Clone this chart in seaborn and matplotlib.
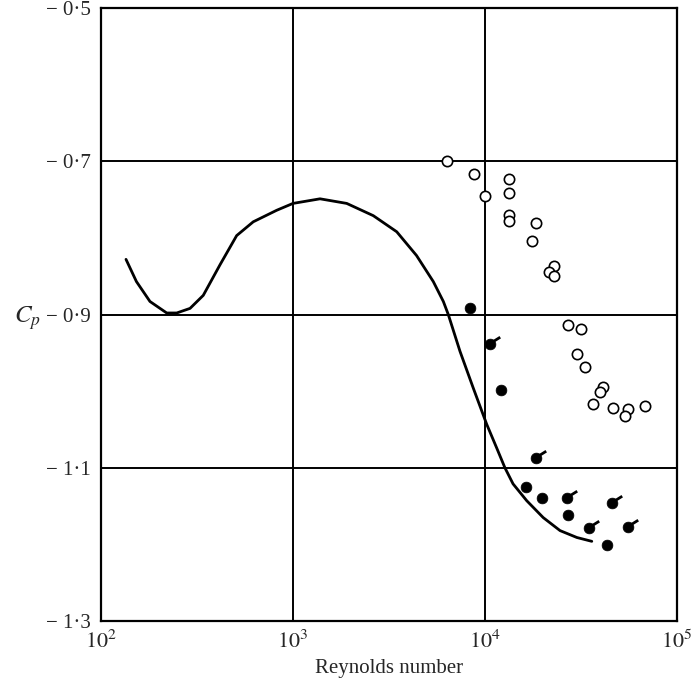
import numpy as np
import pandas as pd
import matplotlib
matplotlib.use("Agg")
import matplotlib.pyplot as plt
import matplotlib.path as mpath
import matplotlib.ticker as mticker
import seaborn as sns

# theoretical curve
curve_re = [135, 153, 180, 220, 248, 291, 341, 417, 509, 621, 822, 1000, 1383, 1905,
            2620, 3470, 4400, 5380, 6070, 6440, 7410, 8690, 10200, 11500, 12700, 14000,
            16500, 20100, 24600, 30100, 36000]
curve_cp = [-0.828, -0.857, -0.883, -0.898, -0.898, -0.892, -0.875, -0.835, -0.797,
            -0.779, -0.764, -0.755, -0.749, -0.755, -0.771, -0.792, -0.823, -0.857,
            -0.883, -0.900, -0.948, -0.996, -1.043, -1.074, -1.100, -1.121, -1.143,
            -1.165, -1.182, -1.191, -1.196]

# open circles
open_re = [6370, 8750, 9970, 13300, 13300, 13300, 13300, 18500, 17600, 22800, 21500,
           23000, 27200, 31700, 30100, 33100, 41400, 39800, 36600, 46700, 55800, 53700, 67900]
open_cp = [-0.700, -0.716, -0.745, -0.723, -0.741, -0.770, -0.778, -0.781, -0.804, -0.837,
           -0.845, -0.850, -0.914, -0.919, -0.952, -0.968, -0.995, -1.001, -1.017, -1.022,
           -1.023, -1.032, -1.019]

# filled circles
filled_re = [8320, 12050, 16300, 19800, 27200, 43000]
filled_cp = [-0.892, -0.999, -1.125, -1.139, -1.161, -1.201]

# filled circles with tail
tail_re = [10600, 18500, 26700, 46100, 34900, 55300]
tail_cp = [-0.939, -1.087, -1.139, -1.146, -1.178, -1.177]

sns.set_style("white")
plt.rcParams['font.family'] = ['Liberation Serif', 'DejaVu Serif']
plt.rcParams['mathtext.fontset'] = 'stix'

fig = plt.figure(figsize=(6.93, 6.85), dpi=100)
ax = fig.add_axes([0.1457, 0.0934, 0.8312, 0.8949])

curve = pd.DataFrame({'re': curve_re, 'cp': curve_cp})
sns.lineplot(data=curve, x='re', y='cp', sort=False, estimator=None,
             color='black', linewidth=2.0, ax=ax)
ax.lines[-1].set_solid_joinstyle('round')

sns.scatterplot(x=open_re, y=open_cp, marker='o', s=55, facecolor='white',
                edgecolor='black', linewidth=1.2, ax=ax, zorder=4)
sns.scatterplot(x=filled_re + tail_re, y=filled_cp + tail_cp, marker='o', s=60,
                color='black', edgecolor='black', linewidth=0.5, ax=ax, zorder=4)

tail = mpath.Path([(0.2, 0.25), (0.6, 0.5), (1.0, 0.75)],
                  [mpath.Path.MOVETO, mpath.Path.LINETO, mpath.Path.LINETO])
ax.plot(tail_re, tail_cp, linestyle='none', marker=tail, markersize=14,
        markeredgecolor='black', markeredgewidth=2.0, zorder=5)

ax.set_xscale('log')
ax.set_xlim(100, 100000)
ax.set_ylim(-1.3, -0.5)
ax.set_xticks([100, 1000, 10000, 100000])
ax.xaxis.set_minor_locator(mticker.NullLocator())
ax.set_xticklabels([r'$10^{2}$', r'$10^{3}$', r'$10^{4}$', r'$10^{5}$'], fontsize=16)
yt = [-1.3, -1.1, -0.9, -0.7, -0.5]
ax.set_yticks(yt)
ax.set_yticklabels(['\u2212 ' + f'{abs(v):.1f}'.replace('.', '\u00b7') for v in yt], fontsize=15)
ax.tick_params(axis='both', length=0, pad=7)

ax.grid(True, color='black', linewidth=1.4)
for s in ax.spines.values():
    s.set_color('black')
    s.set_linewidth(1.6)

ax.set_xlabel('Reynolds number', fontsize=15, labelpad=4)
ax.set_ylabel(r'$C_p$', fontsize=18, rotation=0, labelpad=14)
ax.yaxis.set_label_coords(-0.128, 0.472)

fig.savefig('out.png', dpi=100)
